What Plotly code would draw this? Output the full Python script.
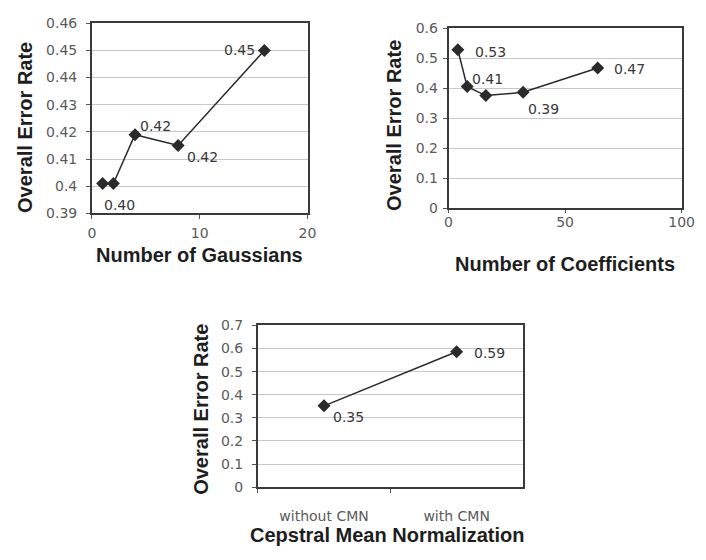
import plotly.graph_objects as go

# ---------------- data ----------------
gauss_n = [1, 2, 4, 8, 16]
gauss_err = [0.401, 0.401, 0.419, 0.415, 0.450]
gauss_labels = ["0.40", "", "0.42", "0.42", "0.45"]

coef_n = [4, 8, 16, 32, 64]
coef_err = [0.528, 0.405, 0.375, 0.386, 0.467]
coef_labels = ["0.53", "0.41", "", "0.39", "0.47"]

cmn_cat = ["without CMN", "with CMN"]
cmn_err = [0.352, 0.586]
cmn_labels = ["0.35", "0.59"]

# label offsets in px (dx, dy-up)
gauss_off = [(17, -21), (0, 0), (21, 9), (24, -11), (-25, 0)]
coef_off = [(33, -2), (20, 8), (0, 0), (20, -17), (32, -1)]
cmn_off = [(24, -11), (33, -1)]

W, H = 706, 560
TICK_FONT = dict(family="DejaVu Sans", size=14, color="#5a5a5a")
LABEL_FONT = dict(family="DejaVu Sans", size=14, color="#383838")
TITLE_FONT = dict(family="Liberation Sans, Arial, sans-serif", size=20, color="#1e1e1e", weight="bold")
LINE_C = "#2a2a2a"
MARK = dict(symbol="diamond", size=10, color=LINE_C, line=dict(width=0))

fig = go.Figure()

fig.add_trace(go.Scatter(x=gauss_n, y=gauss_err, mode="lines+markers",
                         line=dict(color=LINE_C, width=1.5), marker=MARK,
                         xaxis="x", yaxis="y", showlegend=False, cliponaxis=False))
fig.add_trace(go.Scatter(x=coef_n, y=coef_err, mode="lines+markers",
                         line=dict(color=LINE_C, width=1.5), marker=MARK,
                         xaxis="x2", yaxis="y2", showlegend=False, cliponaxis=False))
fig.add_trace(go.Scatter(x=cmn_cat, y=cmn_err, mode="lines+markers",
                         line=dict(color=LINE_C, width=1.5), marker=MARK,
                         xaxis="x3", yaxis="y3", showlegend=False, cliponaxis=False))

annotations = []
def add_labels(xs, ys, labels, offs, xr, yr):
    for x, y, t, (dx, dy) in zip(xs, ys, labels, offs):
        if not t:
            continue
        annotations.append(dict(x=x, y=y, xref=xr, yref=yr, text=t, showarrow=False,
                                xanchor="center", yanchor="middle", xshift=dx, yshift=dy,
                                font=LABEL_FONT))

add_labels(gauss_n, gauss_err, gauss_labels, gauss_off, "x", "y")
add_labels(coef_n, coef_err, coef_labels, coef_off, "x2", "y2")
add_labels(cmn_cat, cmn_err, cmn_labels, cmn_off, "x3", "y3")

def title(text, cx, cy, rot=0):
    annotations.append(dict(x=cx / W, y=1 - cy / H, xref="paper", yref="paper", text=text,
                            showarrow=False, xanchor="center", yanchor="middle",
                            textangle=rot, font=TITLE_FONT))

title("Number of Gaussians", 200.5, 254)
title("Overall Error Rate", 22, 123, -90)
title("Number of Coefficients", 575, 264)
title("Overall Error Rate", 399, 121, -90)
title("Cepstral Mean Normalization", 393, 543)
title("Overall Error Rate", 202.5, 413, -90)

common_axis = dict(showline=True, mirror=True, linecolor="#3a3a3a", linewidth=1.5,
                   ticks="outside", ticklen=4, tickcolor="#555555", tickwidth=1,
                   tickfont=TICK_FONT, zeroline=False)

def px_dom(a, b, total, flip=False):
    if flip:
        return [1 - b / total, 1 - a / total]
    return [a / total, b / total]

fig.update_layout(
    width=W, height=H, margin=dict(l=0, r=0, t=0, b=0),
    paper_bgcolor="white", plot_bgcolor="white",
    annotations=annotations,
    xaxis=dict(common_axis, domain=px_dom(90, 311, W), range=[0, 20], dtick=10,
               showgrid=False, anchor="y", ticklabelstandoff=2),
    yaxis=dict(common_axis, domain=px_dom(15.7, 211.5, H, True), range=[0.39, 0.46], dtick=0.01,
               showgrid=True, gridcolor="#c8c8c8", gridwidth=1, anchor="x", ticklabelstandoff=6),
    xaxis2=dict(common_axis, domain=px_dom(455.5, 694.3, W), range=[0, 100], dtick=50,
                showgrid=False, anchor="y2", ticklabelstandoff=-3, ticklen=3),
    yaxis2=dict(common_axis, domain=px_dom(20.7, 206, H, True), range=[0, 0.6], dtick=0.1,
                showgrid=True, gridcolor="#c8c8c8", gridwidth=1, anchor="x2", ticklabelstandoff=2),
    xaxis3=dict(common_axis, domain=px_dom(260, 531.7, W), range=[-0.5, 1.5], type="category",
                tickson="boundaries", showgrid=False, anchor="y3", ticklabelstandoff=15,
                tickfont=dict(TICK_FONT, size=14)),
    yaxis3=dict(common_axis, domain=px_dom(326.7, 493.3, H, True), range=[0, 0.7], dtick=0.1,
                showgrid=True, gridcolor="#c8c8c8", gridwidth=1, anchor="x3", ticklabelstandoff=6),
)

fig.write_html("out.html")
